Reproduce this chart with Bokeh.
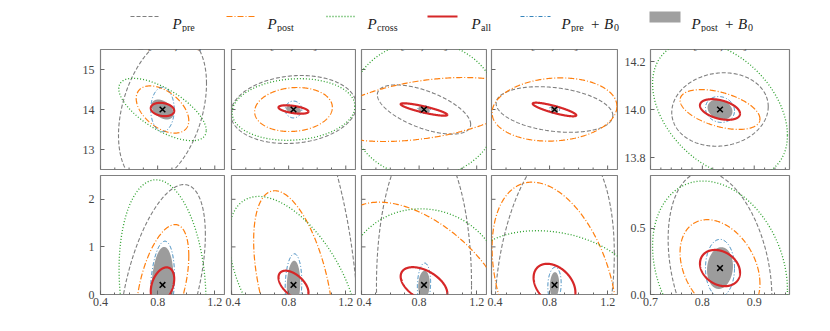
import numpy as np
from bokeh.plotting import figure
from bokeh.models import Range1d, FixedTicker, PrintfTickFormatter, Label
from bokeh.layouts import column, row
from bokeh.embed import file_html
from bokeh.resources import INLINE
from bokeh.core.properties import value

# ---------------- data ----------------
s8_fid = 0.834
logM0_fid = 14.0
sigma_fid = 0.2

panel_titles = ["k ∈ [0.01, 0.2]", "[0.2, 0.3]", "[0.3, 0.4]", "[0.4, 0.5]", "[0.01, 0.5]"]
series = ["pre", "post", "cross", "all", "preB", "postB"]

# Each entry: (half-extent in sigma8, half-extent in second parameter, correlation), one per k-panel
pre_logM0 = [(0.308, 1.85, 0.35), (0.44, 0.85, 0.12), (0.324, 0.615, -0.6), (0.402, 0.57, -0.27), (0.093, 0.153, 0.08)]
post_logM0 = [(0.184, 0.59, -0.47), (0.272, 0.55, 0.1), (0.675, 0.8, 0.41), (0.43, 0.79, 0.1), (0.077, 0.083, -0.47)]
cross_logM0 = [(0.306, 0.78, -0.67), (0.43, 0.77, 0.1), (0.52, 1.70, 0.0), (0.6, 2.6, 0.0), (0.13, 0.283, -0.38)]
all_logM0 = [(0.082, 0.167, -0.2), (0.105, 0.105, -0.5), (0.162, 0.155, -0.86), (0.15, 0.17, -0.85), (0.0386, 0.043, -0.4)]
preB_logM0 = [(0.082, 0.555, 0.0), (0.058, 0.21, 0.0), (0.045, 0.1, 0.0), (0.035, 0.1, 0.0), (0.028, 0.054, -0.1)]
postB_logM0 = [(0.077, 0.25, -0.4), (0.052, 0.1, -0.3), (0.04, 0.08, -0.2), (0.025, 0.08, -0.2), (0.024, 0.042, -0.2)]

pre_sigma = [(0.30, 2.11, 0.50), (0.46, 4.5, -0.3), (0.33, 3.16, 0.0), (0.412, 3.0, 0.22), (0.1, 0.73, -0.3)]
post_sigma = [(0.184, 1.27, 0.48), (0.279, 1.98, -0.47), (0.6, 1.74, -0.52), (0.43, 2.16, -0.36), (0.077, 0.366, -0.32)]
cross_sigma = [(0.304, 2.21, -0.15), (0.453, 1.86, -0.54), (0.55, 1.6, -0.04), (0.6, 1.14, -0.2), (0.13, 0.658, -0.25)]
all_sigma = [(0.082, 0.37, 0.35), (0.105, 0.3, -0.53), (0.162, 0.374, -0.48), (0.144, 0.445, -0.35), (0.0386, 0.137, -0.25)]
preB_sigma = [(0.084, 0.92, 0.2), (0.058, 0.655, 0.1), (0.046, 0.46, 0.1), (0.046, 0.374, 0.1), (0.028, 0.217, 0.0)]
postB_sigma = [(0.077, 0.8, 0.15), (0.047, 0.51, 0.1), (0.04, 0.3, 0.1), (0.032, 0.27, 0.1), (0.025, 0.158, 0.1)]

logM0_sets = dict(pre=pre_logM0, post=post_logM0, cross=cross_logM0, all=all_logM0, preB=preB_logM0, postB=postB_logM0)
sigma_sets = dict(pre=pre_sigma, post=post_sigma, cross=cross_sigma, all=all_sigma, preB=preB_sigma, postB=postB_sigma)

# axis limits / ticks
x_lim_k = (0.4, 1.268)
x_lim_all = (0.7, 0.968)
logM0_lim_k = (12.5, 15.5)
logM0_lim_all = (13.75, 14.25)
sigma_lim_k = (0.0, 2.5)
sigma_lim_all = (0.0, 0.9)
x_ticks_k = [0.4, 0.8, 1.2]
x_minor_k = [0.5, 0.6, 0.7, 0.9, 1.0, 1.1]
x_ticks_all = [0.7, 0.8, 0.9]
x_minor_all = [0.72, 0.74, 0.76, 0.78, 0.82, 0.84, 0.86, 0.88, 0.92, 0.94, 0.96]
logM0_ticks_k = [13, 14, 15]
logM0_ticks_all = [13.8, 14.0, 14.2]
sigma_ticks_k = [0, 1, 2]
sigma_ticks_all = [0.0, 0.5]

# ---------------- styles ----------------
FONT = "Liberation Serif"
TICK = "#666666"
style = {
    "pre": dict(line_color="#7f7f7f", line_dash="4 2", line_width=1.1),
    "post": dict(line_color="#ff7f0e", line_dash="6 2 1 2", line_width=1.2),
    "cross": dict(line_color="#2ca02c", line_dash="1 2", line_width=1.3),
    "all": dict(line_color="#d62728", line_width=2.2),
    "preB": dict(line_color="#1f77b4", line_dash="4 2 1 2", line_width=0.9),
}
fill_color = "#9c9c9c"


def ellipse_xy(cx, cy, ax, ay, rho, n=400):
    t = np.linspace(0, 2 * np.pi, n)
    s = np.sqrt(1 - rho ** 2)
    return cx + ax * np.cos(t), cy + ay * (rho * np.cos(t) + s * np.sin(t))


def style_axis(axis, ticks, minors, fmt, standoff):
    axis.ticker = FixedTicker(ticks=ticks, minor_ticks=minors)
    axis.axis_line_color = None
    axis.major_tick_in = 4
    axis.major_tick_out = 0
    axis.minor_tick_in = 2
    axis.minor_tick_out = 0
    axis.major_tick_line_color = TICK
    axis.minor_tick_line_color = TICK
    axis.formatter = PrintfTickFormatter(format=fmt)
    axis.major_label_text_font = FONT
    axis.major_label_text_font_size = "12px"
    axis.major_label_text_color = "#444444"
    axis.major_label_standoff = standoff


def bare_ticks(p, along, ticks, minors, pos):
    # inward tick marks on a side without labels
    if along == "x":
        p.ray(x=ticks, y=[pos] * len(ticks), length=4, length_units="screen", angle=np.pi / 2,
              line_color=TICK, line_width=1)
        if minors:
            p.ray(x=minors, y=[pos] * len(minors), length=2, length_units="screen", angle=np.pi / 2,
                  line_color=TICK, line_width=1)
    else:
        p.ray(x=[pos] * len(ticks), y=ticks, length=4, length_units="screen", angle=0,
              line_color=TICK, line_width=1)


# layout (px)
frame_w = [124, 124, 125, 126, 139]
border_l = [100, 6, 5, 4, 32]
border_r = [1, 1, 1, 1, 8]
legend_h = 32
top_bt, top_fh, top_bb = 17, 120, 5
bot_bt, bot_fh, bot_bb = 1, 119, 36


def make_panel(i, is_top):
    last = i == 4
    xr = x_lim_all if last else x_lim_k
    xt = x_ticks_all if last else x_ticks_k
    xm = x_minor_all if last else x_minor_k
    if is_top:
        yr = logM0_lim_all if last else logM0_lim_k
        yt = logM0_ticks_all if last else logM0_ticks_k
        yc = logM0_fid
        data = logM0_sets
        bt, fh, bb = top_bt, top_fh, top_bb
    else:
        yr = sigma_lim_all if last else sigma_lim_k
        yt = sigma_ticks_all if last else sigma_ticks_k
        yc = sigma_fid
        data = sigma_sets
        bt, fh, bb = bot_bt, bot_fh, bot_bb
    yfmt = "%.1f" if last else "%d"
    show_y = (i == 0 or last)
    w = border_l[i] + frame_w[i] + border_r[i]
    h = bt + fh + bb
    p = figure(width=w, height=h, x_range=Range1d(*xr), y_range=Range1d(*yr),
               toolbar_location=None, output_backend="svg",
               x_axis_location=None if is_top else "below",
               y_axis_location="left" if show_y else None,
               min_border_left=border_l[i], min_border_right=border_r[i],
               min_border_top=bt, min_border_bottom=bb)
    p.grid.visible = False
    p.outline_line_color = "#808080"
    p.outline_line_width = 1.2
    p.background_fill_color = "white"
    p.border_fill_color = "white"
    if not is_top:
        style_axis(p.xaxis[0], xt, xm, "%.1f", 3)
    else:
        bare_ticks(p, "x", xt, xm, yr[0])
    if show_y:
        style_axis(p.yaxis[0], yt, [], yfmt, 6 if i == 0 else 5)
    else:
        bare_ticks(p, "y", yt, [], xr[0])

    # filled ellipse first
    ax, ay, rho = data["postB"][i]
    ex, ey = ellipse_xy(s8_fid, yc, ax, ay, rho)
    p.patch(ex, ey, fill_color=fill_color, line_color=None)
    for name in ["pre", "post", "cross", "preB", "all"]:
        ax, ay, rho = data[name][i]
        ex, ey = ellipse_xy(s8_fid, yc, ax, ay, rho)
        p.line(ex, ey, **style[name])
    p.scatter([s8_fid], [yc], marker="x", size=8, line_color="black", line_width=1.5)

    if is_top:
        p.add_layout(Label(x=(xr[0] + xr[1]) / 2, y=yr[1], text=panel_titles[i],
                           text_font=FONT, text_font_size="13px", text_color="#333333",
                           text_align="center", text_baseline="alphabetic", y_offset=5))
    return p


top = [make_panel(i, True) for i in range(5)]
bot = [make_panel(i, False) for i in range(5)]

# axis labels
top[0].add_layout(Label(x=x_lim_k[0], y=logM0_fid, text="log M₀", angle=np.pi / 2,
                        text_font=FONT, text_font_size="15px", text_color="#333333",
                        text_align="center", text_baseline="middle", x_offset=-32, y_offset=-3))
mid_sig = (sigma_lim_k[0] + sigma_lim_k[1]) / 2
bot[0].add_layout(Label(x=x_lim_k[0], y=mid_sig, text="σ", angle=np.pi / 2,
                        text_font=FONT, text_font_size="16px", text_color="#333333",
                        text_align="left", text_baseline="alphabetic", x_offset=-24, y_offset=-15))
bot[0].add_layout(Label(x=x_lim_k[0], y=mid_sig, text="log M", angle=np.pi / 2,
                        text_font=FONT, text_font_size="10px", text_color="#333333",
                        text_align="left", text_baseline="alphabetic", x_offset=-21, y_offset=-6))
bot[2].add_layout(Label(x=s8_fid, y=sigma_lim_k[0], text="σ", text_font=FONT,
                        text_font_size="16px", text_color="#333333", text_align="right",
                        text_baseline="alphabetic", x_offset=2, y_offset=-27))
bot[2].add_layout(Label(x=s8_fid, y=sigma_lim_k[0], text="8", text_font=FONT,
                        text_font_size="10px", text_color="#333333", text_align="left",
                        text_baseline="alphabetic", x_offset=2, y_offset=-29))

# ---------------- legend ----------------
total_w = sum(border_l) + sum(frame_w) + sum(border_r)
leg = figure(width=total_w, height=legend_h, x_range=Range1d(0, total_w), y_range=Range1d(legend_h, 0),
             toolbar_location=None, output_backend="svg", x_axis_location=None, y_axis_location=None,
             min_border_left=0, min_border_right=0, min_border_top=0, min_border_bottom=0)
leg.grid.visible = False
leg.outline_line_color = None

legend_sample_x = [130, 226, 326, 427, 520, 649]
legend_text_x = [172, 267, 367, 471, 561, 691]
legend_sub = ["pre", "post", "cross", "all", "pre", "post"]
legend_sub_w = [13, 17, 0, 0, 13, 17]
sample_len = 30
line_y = 16
text_y = 23.5
sub_y = 26.5
for k, name in enumerate(series):
    x0 = legend_sample_x[k]
    if name == "postB":
        leg.quad(left=[x0], right=[x0 + sample_len + 1], top=[11], bottom=[22],
                 fill_color="#a0a0a0", line_color=None)
    else:
        leg.line([x0, x0 + sample_len], [line_y, line_y], **style[name])
    tx = legend_text_x[k]
    leg.text([tx], [text_y], text=["P"], text_font=value(FONT), text_font_style="italic",
             text_font_size="15px", text_color="#222222", text_baseline="alphabetic")
    leg.text([tx + 9.5], [sub_y], text=[legend_sub[k]], text_font=value(FONT),
             text_font_size="10px", text_color="#222222", text_baseline="alphabetic")
    if name in ("preB", "postB"):
        px = tx + 9.5 + legend_sub_w[k] + 7
        leg.text([px], [text_y], text=["+"], text_font=value(FONT), text_font_size="15px",
                 text_color="#222222", text_baseline="alphabetic")
        leg.text([px + 13], [text_y], text=["B"], text_font=value(FONT), text_font_style="italic",
                 text_font_size="15px", text_color="#222222", text_baseline="alphabetic")
        leg.text([px + 23], [sub_y], text=["0"], text_font=value(FONT), text_font_size="10px",
                 text_color="#222222", text_baseline="alphabetic")

layout = column(leg, row(*top), row(*bot))
open("out.html", "w").write(file_html(layout, INLINE))
